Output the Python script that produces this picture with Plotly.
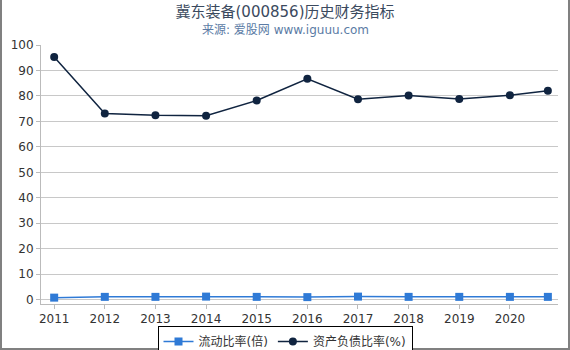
import plotly.graph_objects as go

years = [2011, 2012, 2013, 2014, 2015, 2016, 2017, 2018, 2019, 2020, 2020.75]
tick_vals = [2011, 2012, 2013, 2014, 2015, 2016, 2017, 2018, 2019, 2020]
tick_text = ["2011", "2012", "2013", "2014", "2015", "2016", "2017", "2018", "2019", "2020"]
current_ratio = [0.8, 1.1, 1.1, 1.2, 1.1, 1.0, 1.2, 1.1, 1.1, 1.1, 1.1]
debt_ratio = [95.3, 73.1, 72.4, 72.2, 78.2, 86.7, 78.7, 80.2, 78.8, 80.3, 82.0]

W, H = 570, 350
L, R, T, B = 41, 12, 45, 46
pw, ph = W - L - R, H - T - B

def px(x):
    return (x - L) / pw

def py(y):
    return (H - B - y) / ph

font = "DejaVu Sans, Noto Sans CJK SC, sans-serif"

fig = go.Figure()
fig.add_trace(go.Scatter(
    x=years, y=current_ratio, name="流动比率(倍)", mode="lines+markers",
    line=dict(color="#2f7ad6", width=1.5),
    marker=dict(symbol="square", size=8, color="#2f7ad6"),
))
fig.add_trace(go.Scatter(
    x=years, y=debt_ratio, name="资产负债比率(%)", mode="lines+markers",
    line=dict(color="#102440", width=1.5),
    marker=dict(symbol="circle", size=8, color="#102440"),
))

fig.update_layout(
    width=W, height=H,
    margin=dict(l=L, r=R, t=T, b=B, autoexpand=False),
    paper_bgcolor="white", plot_bgcolor="white",
    font=dict(family=font, size=12, color="#333333"),
    title=dict(text="冀东装备(000856)历史财务指标", x=0.5, xanchor="center",
               y=1 - 12 / H, yanchor="middle", yref="container",
               font=dict(family=font, size=15, color="#3b4a5e")),
    showlegend=True,
    legend=dict(orientation="h", x=px(285), xanchor="center", y=py(326), yanchor="top",
                bordercolor="#000000", borderwidth=1, bgcolor="white",
                font=dict(family=font, size=12, color="#333333"),
                itemwidth=30, tracegroupgap=0),
    xaxis=dict(range=[2010.74, 2020.95], tickvals=tick_vals, ticktext=tick_text,
               showgrid=False, showline=True, linecolor="#bbbbbb", linewidth=1,
               ticks="outside", ticklen=4, tickcolor="#bbbbbb",
               tickfont=dict(size=12, color="#333333"), zeroline=False),
    yaxis=dict(range=[-1.7, 100], tickvals=list(range(0, 101, 10)),
               showgrid=True, gridcolor="#c8c8c8", gridwidth=1,
               showline=True, linecolor="#bbbbbb", linewidth=1,
               ticks="outside", ticklen=4, tickcolor="#bbbbbb",
               tickfont=dict(size=12, color="#333333"), zeroline=False),
)

fig.add_annotation(text="来源: 爱股网 www.iguuu.com", xref="paper", yref="paper",
                   x=px(W / 2), y=py(30), xanchor="center", yanchor="middle",
                   showarrow=False, font=dict(family=font, size=12, color="#5b7ba5"))

border = "#808080"
fig.add_shape(type="line", xref="paper", yref="paper", x0=px(1), x1=px(1), y0=py(0), y1=py(349),
              line=dict(color=border, width=2))
fig.add_shape(type="line", xref="paper", yref="paper", x0=px(569), x1=px(569), y0=py(0), y1=py(349),
              line=dict(color=border, width=2))
fig.add_shape(type="line", xref="paper", yref="paper", x0=px(0), x1=px(570), y0=py(349), y1=py(349),
              line=dict(color=border, width=2))

fig.write_html("out.html")
